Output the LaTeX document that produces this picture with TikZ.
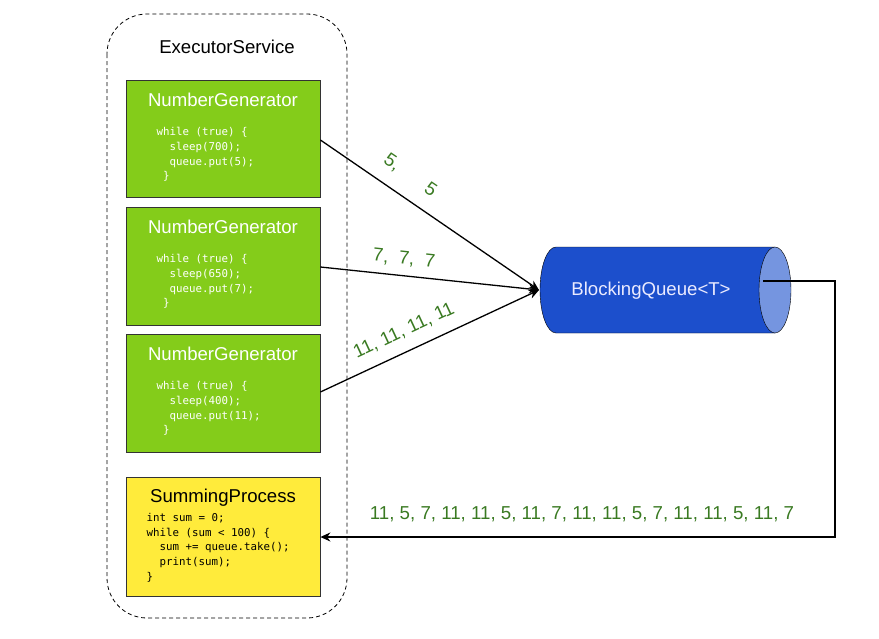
\documentclass[tikz,border=0pt]{standalone}
\usepackage{fontspec}
\setmainfont{Liberation Sans}
\newfontfamily\codefont{DejaVu Sans Mono}
\usetikzlibrary{arrows.meta}
\definecolor{gen}{HTML}{84CC1A}
\definecolor{sumc}{HTML}{FFEB3B}
\definecolor{qbody}{HTML}{1C4FCC}
\definecolor{qcap}{HTML}{7595E0}
\definecolor{lbl}{HTML}{3A7A22}
\tikzset{
  box/.style={draw=black!80,minimum width=194pt,anchor=north west},
  title/.style={font=\fontsize{18.6}{22}\selectfont},
  code/.style={font=\codefont\fontsize{10.8}{14.6}\selectfont,align=left,anchor=north west},
  lab/.style={text=lbl,font=\fontsize{18.7}{22}\selectfont,inner sep=1pt},
  flow/.style={line width=1.3pt,-{Stealth[length=10pt,width=9pt]}}
}
\begin{document}
\begin{tikzpicture}[x=1pt,y=-1pt]
\useasboundingbox (0,0) rectangle (879,638);
\draw[dashed,line width=0.8pt,dash pattern=on 4pt off 3pt,rounded corners=40pt] (107,14) rectangle (347,618);
\node[title] (es) at (227,47) {ExecutorService};

\node[box,fill=gen,minimum height=117pt] (g1) at (126,80) {};
\node[box,fill=gen,minimum height=118pt] (g2) at (126,207) {};
\node[box,fill=gen,minimum height=118pt] (g3) at (126,334) {};
\node[box,fill=sumc,minimum height=119pt] (sp) at (126,477) {};

\node[title,text=white] (t1) at (223,100) {NumberGenerator};
\node[title,text=white] (t2) at (223,227) {NumberGenerator};
\node[title,text=white] (t3) at (223,354) {NumberGenerator};
\node[title] (t4) at (223,498) {SummingProcess};

\node[code,text=white] (c1) at (153,124) {while (true) \{\\\ \ sleep(700);\\\ \ queue.put(5);\\\ \}};
\node[code,text=white] (c2) at (153,251) {while (true) \{\\\ \ sleep(650);\\\ \ queue.put(7);\\\ \}};
\node[code,text=white] (c3) at (153,378) {while (true) \{\\\ \ sleep(400);\\\ \ queue.put(11);\\\ \}};
\node[code] (c4) at (143,510) {int sum = 0;\\while (sum < 100) \{\\\ \ sum += queue.take();\\\ \ print(sum);\\\}};

% BlockingQueue cylinder
\coordinate (q) at (660,290);
\fill[qbody] (556,247) -- (775,247) -- (775,333) -- (556,333)
  arc[start angle=90,end angle=270,x radius=16,y radius=43] -- cycle;
\draw (775,247) -- (556,247) arc[start angle=270,end angle=90,x radius=16,y radius=43] -- (775,333);
\draw[fill=qcap] (775,290) ellipse[x radius=16,y radius=43];
\node[title,text=white!92!blue] (qt) at (651,291) {BlockingQueue<T>};

\coordinate (hit) at (539,290);
\draw[flow] (g1.east |- 0,140) -- (hit);
\draw[flow] (g2.east |- 0,267) -- (hit);
\draw[flow] (g3.east |- 0,392) -- (hit);
\coordinate (qout) at (763,281);
\draw[flow] (qout) -- (835,281) -- (835,537) -- (sp.east |- 0,537);

\node[lab,rotate=-34] (l1a) at (392,163) {5,};
\node[lab,rotate=-34] (l1b) at (431,189) {5};
\node[lab,rotate=-6] (l2) at (404,259) {7,\ \ 7,\ \ 7};
\node[lab,rotate=25] (l3) at (404,331) {11, 11, 11, 11};
\node[lab] (l4) at (582,514) {11, 5, 7, 11, 11, 5, 11, 7, 11, 11, 5, 7, 11, 11, 5, 11, 7};
\end{tikzpicture}
\end{document}
